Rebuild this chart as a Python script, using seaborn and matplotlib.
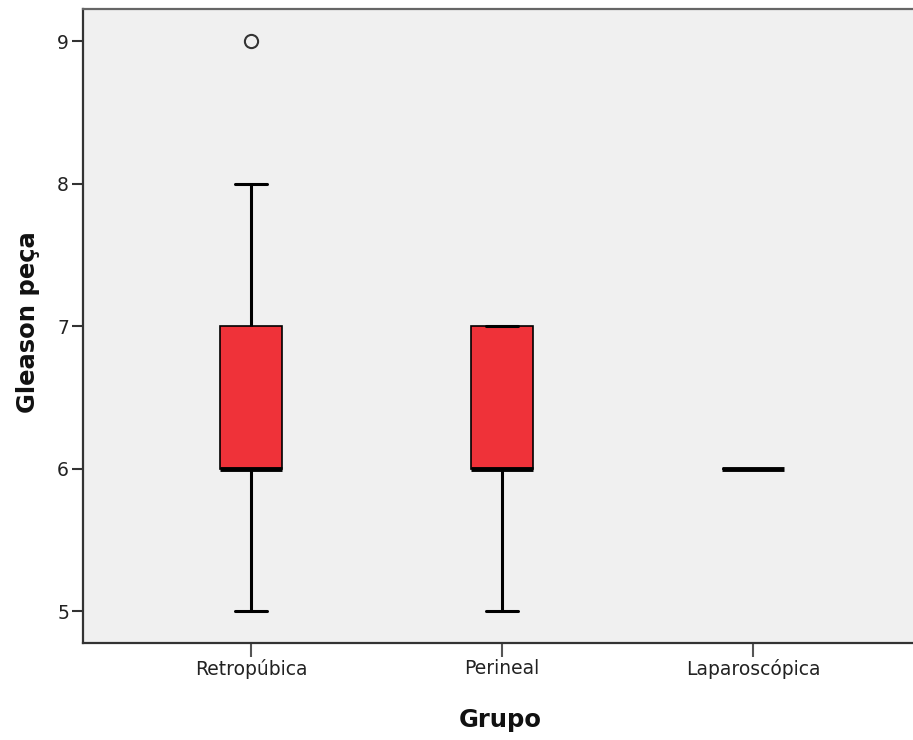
import matplotlib
matplotlib.use("Agg")
import matplotlib.pyplot as plt
import pandas as pd
import seaborn as sns

# Gleason score of the surgical specimen by surgical approach
grupos = ["Retropúbica", "Perineal", "Laparoscópica"]
gleason_retropubica = [5, 6, 6, 6, 6, 6, 7, 7, 7, 8, 9]
gleason_perineal = [5, 6, 6, 6, 6, 7, 7, 7]
gleason_laparoscopica = [6, 6, 6]
yticks = [5, 6, 7, 8, 9]

valores = [gleason_retropubica, gleason_perineal, gleason_laparoscopica]
df = pd.DataFrame({
    "Grupo": [g for g, v in zip(grupos, valores) for _ in v],
    "Gleason peça": [x for v in valores for x in v],
})

sns.set_theme(style="ticks")
plt.rcParams["font.family"] = ["DejaVu Sans"]

W, H = 913, 740
fig = plt.figure(figsize=(W / 100, H / 100), dpi=100)
left, right, top, bottom = 83, 913, 9, 642.5
ax = fig.add_axes([left / W, 1 - bottom / H, (right - left) / W, (bottom - top) / H])
ax.set_facecolor("#F0F0F0")

sns.boxplot(
    data=df, x="Grupo", y="Gleason peça", order=grupos,
    color="#EF3239", saturation=1, width=0.25, whis=1.5,
    linecolor="black", linewidth=1.2, ax=ax,
    whiskerprops={"linewidth": 2.2, "color": "black"},
    capprops={"linewidth": 2.2, "color": "black"},
    medianprops={"linewidth": 3.5, "color": "black"},
    flierprops={"marker": "o", "markersize": 9.5, "markerfacecolor": "none",
                "markeredgecolor": "#333333", "markeredgewidth": 1.5},
)

ax.set_xlim(-0.669, 2.637)
ax.set_ylim(4.779, 9.2246)
ax.set_yticks(yticks)
ax.set_yticklabels([str(t) for t in yticks])

ax.set_xlabel("")
ax.set_ylabel("")
fig.text(500 / W, 1 - 720 / H, "Grupo", ha="center", va="center",
         fontsize=17.5, fontweight="bold", color="#111111")
fig.text(28 / W, 1 - 322 / H, "Gleason peça", ha="center", va="center",
         rotation=90, fontsize=17.5, fontweight="bold", color="#111111")

for side in ["left", "bottom"]:
    ax.spines[side].set_color("#333333")
    ax.spines[side].set_linewidth(1.6)
ax.spines["top"].set_color("#666666")
ax.spines["top"].set_linewidth(1.6)
ax.spines["right"].set_visible(False)

ax.tick_params(axis="y", length=8, width=1.5, color="#333333", pad=2,
               labelsize=13.5, labelcolor="#222222")
ax.tick_params(axis="x", length=10, width=1.5, color="#555555", pad=2,
               labelsize=13.5, labelcolor="#222222")

fig.savefig("out.png", dpi=100)
